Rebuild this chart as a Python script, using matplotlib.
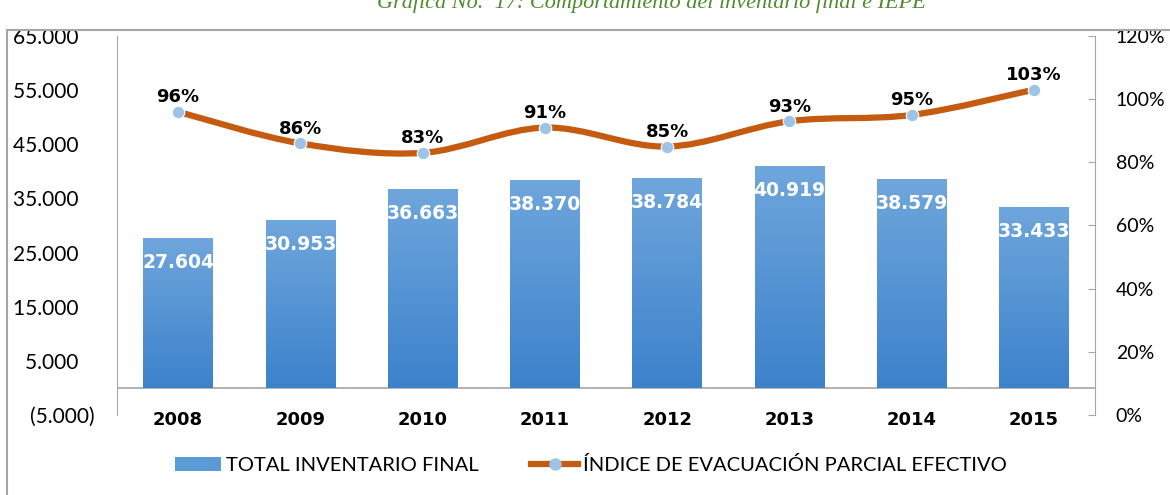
import numpy as np
import matplotlib
matplotlib.use("Agg")
import matplotlib.pyplot as plt
from matplotlib.path import Path
from matplotlib.patches import PathPatch, Rectangle
from matplotlib.lines import Line2D
from matplotlib.ticker import FuncFormatter

years = ["2008", "2009", "2010", "2011", "2012", "2013", "2014", "2015"]
inventario = [27604, 30953, 36663, 38370, 38784, 40919, 38579, 33433]
iepe = [0.96, 0.86, 0.83, 0.91, 0.85, 0.93, 0.95, 1.03]

bar_top = "#6fa6dc"
bar_bot = "#3c82cb"
line_col = "#c55a11"
mark_col = "#9dc3e6"

plt.rcParams["font.family"] = ["Lato", "DejaVu Sans"]

fig = plt.figure(figsize=(11.7, 4.95), dpi=100)
ax = fig.add_axes([117 / 1170, 1 - 415 / 495, (1095 - 117) / 1170, (415 - 36) / 495])
ax2 = ax.twinx()

# outer frame
fig.patches.append(Rectangle((7 / 1170, -0.05), 1.2, 1 - 30 / 495 + 0.05, transform=fig.transFigure,
                             fill=False, edgecolor="#a6a6a6", lw=1.5))
fig.text(0.557, 1 - 3 / 495, "Gráfica No.  17: Comportamiento del inventario final e IEPE",
         ha="center", va="center", fontsize=16, color="#4e8a2e", style="italic",
         family="Liberation Serif")

x = np.arange(len(years))
width = 0.57
bars = ax.bar(x, inventario, width=width, color=bar_bot, zorder=2)
grad = np.linspace(0, 1, 256).reshape(-1, 1)
cmap = matplotlib.colors.LinearSegmentedColormap.from_list("g", [bar_bot, bar_top])
for b in bars:
    im = ax.imshow(grad, cmap=cmap, aspect="auto", origin="lower", zorder=2.1,
                   extent=[b.get_x(), b.get_x() + b.get_width(), 0, b.get_height()])
    im.set_clip_path(b)
for xi, v in zip(x, inventario):
    ax.text(xi, v - 2700, f"{v:,}".replace(",", "."), ha="center", va="top",
            color="white", fontsize=13.5, fontweight="bold", family="DejaVu Sans", zorder=3)


def left_fmt(v, p):
    if v < 0:
        return f"({abs(int(v)):,})".replace(",", ".")
    return f"{int(v):,}".replace(",", ".") + "   "


ax.set_xlim(-0.5, len(years) - 0.5)
ax.set_ylim(-5000, 65000)
ax.set_yticks(np.arange(-5000, 65001, 10000))
ax.yaxis.set_major_formatter(FuncFormatter(left_fmt))
ax.axhline(0, color="#a6a6a6", lw=1.2, zorder=1)
ax.set_xticks(x)
ax.set_xticklabels(years, fontweight="bold", fontsize=13, family="DejaVu Sans")
ax.tick_params(axis="x", length=0, pad=-3)
ax.tick_params(axis="y", length=0, labelsize=15, pad=16)
for s in ["top", "right", "bottom"]:
    ax.spines[s].set_visible(False)
ax.spines["left"].set_color("#a6a6a6")

ax2.set_ylim(0, 1.2)
ax2.set_yticks(np.arange(0, 1.21, 0.2))
ax2.yaxis.set_major_formatter(FuncFormatter(lambda v, p: f"{v * 100:.0f}%"))
ax2.tick_params(axis="y", direction="in", length=5, color="#a6a6a6", labelsize=14, pad=15)
for s in ["top", "left", "bottom"]:
    ax2.spines[s].set_visible(False)
ax2.spines["right"].set_color("#a6a6a6")

# smoothed line through the points (Catmull-Rom style bezier controls)
pts = np.column_stack([x, iepe])
verts = [tuple(pts[0])]
codes = [Path.MOVETO]
n = len(pts)
for i in range(n - 1):
    p0 = pts[max(i - 1, 0)]
    p1 = pts[i]
    p2 = pts[i + 1]
    p3 = pts[min(i + 2, n - 1)]
    c1 = p1 + (p2 - p0) / 6
    c2 = p2 - (p3 - p1) / 6
    verts += [tuple(c1), tuple(c2), tuple(p2)]
    codes += [Path.CURVE4] * 3
ax2.add_patch(PathPatch(Path(verts, codes), fill=False, edgecolor=line_col, lw=4.5,
                        capstyle="round", zorder=4))
ax2.plot(x, iepe, "o", color=mark_col, markersize=9, markeredgecolor="white",
         markeredgewidth=0.8, zorder=5)
for xi, v in zip(x, iepe):
    ax2.text(xi, v + 0.018, f"{v * 100:.0f}%", ha="center", va="bottom", fontsize=13,
             fontweight="bold", family="DejaVu Sans", zorder=6)

handles = [Rectangle((0, 0), 1, 1, facecolor="#5b9bd5"),
           Line2D([0], [0], color=line_col, lw=4.5, marker="o", markersize=8,
                  markerfacecolor=mark_col, markeredgecolor=mark_col)]
fig.legend(handles, ["TOTAL INVENTARIO FINAL", "ÍNDICE DE EVACUACIÓN PARCIAL EFECTIVO"],
           loc="center", bbox_to_anchor=(0.505, 1 - 465 / 495), ncol=2, frameon=False,
           fontsize=14.5, handlelength=2.3, columnspacing=2.6, handletextpad=0.25)

fig.savefig("out.png", dpi=100)
